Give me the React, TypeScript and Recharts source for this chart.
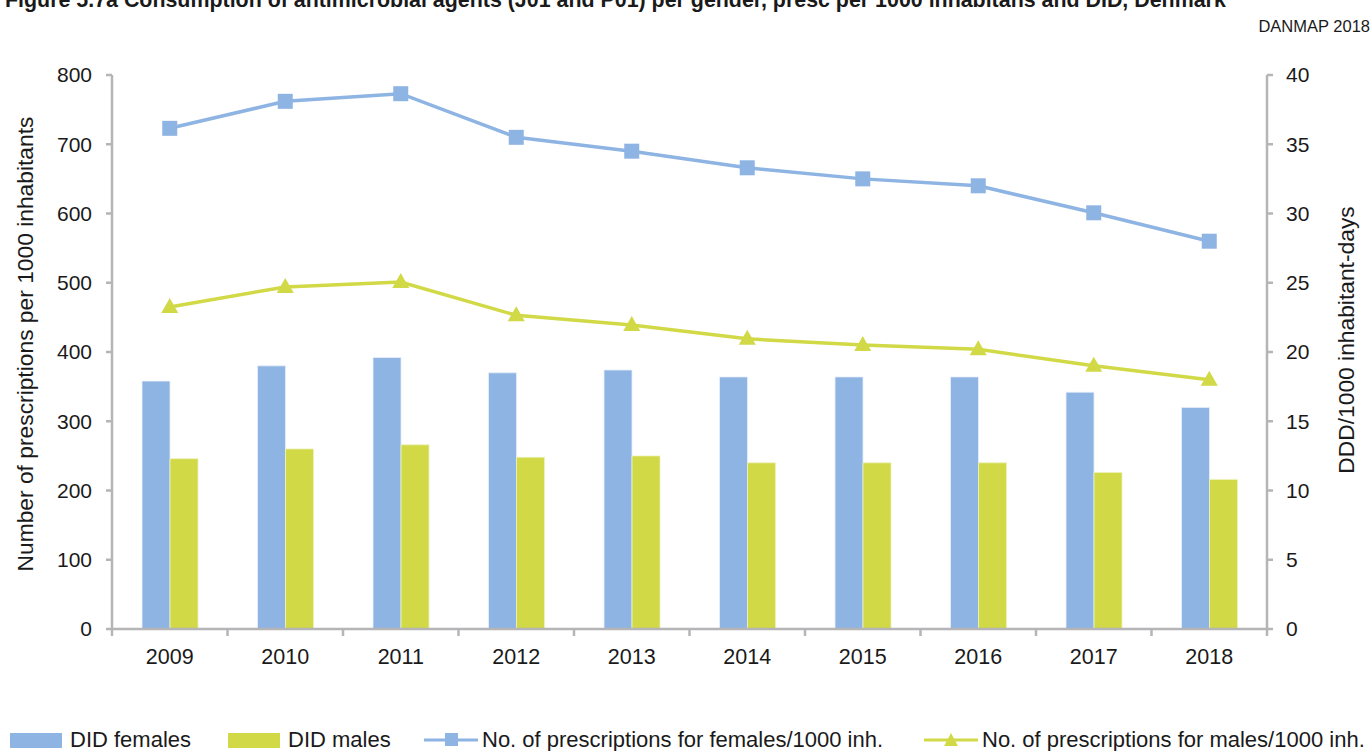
import React from "react";
import {
  Bar,
  ComposedChart,
  Label,
  Line,
  XAxis,
  YAxis,
} from "recharts";

const years = ["2009", "2010", "2011", "2012", "2013", "2014", "2015", "2016", "2017", "2018"];
const didFemales = [17.9, 19.0, 19.6, 18.5, 18.7, 18.2, 18.2, 18.2, 17.1, 16.0];
const didMales = [12.3, 13.0, 13.3, 12.4, 12.5, 12.0, 12.0, 12.0, 11.3, 10.8];
const prescFemales = [723, 762, 773, 710, 690, 666, 650, 640, 601, 560];
const prescMales = [465, 494, 501, 453, 439, 419, 410, 404, 380, 360];

const leftTicks = [0, 100, 200, 300, 400, 500, 600, 700, 800];
const rightTicks = [0, 5, 10, 15, 20, 25, 30, 35, 40];

const BLUE = "#8EB4E3";
const GREEN = "#D1D946";
const AXIS = "#b5b5b8";
const TEXT = "#1a1a1a";
const FONT = "'Liberation Sans', Arial, sans-serif";

const data = years.map((year, i) => ({
  year,
  didF: didFemales[i],
  didM: didMales[i],
  prF: prescFemales[i],
  prM: prescMales[i],
}));

const legendItems = [
  { label: "DID females", color: BLUE, kind: "bar", left: 10 },
  { label: "DID males", color: GREEN, kind: "bar", left: 228 },
  { label: "No. of prescriptions for females/1000 inh.", color: BLUE, kind: "square", left: 422 },
  { label: "No. of prescriptions for males/1000 inh.", color: GREEN, kind: "triangle", left: 922 },
];

function SquareDot(props: any) {
  const { cx, cy } = props;
  if (cx == null || cy == null) return null;
  return <rect x={cx - 7.5} y={cy - 7.5} width={15} height={15} fill={BLUE} />;
}

function TriangleDot(props: any) {
  const { cx, cy } = props;
  if (cx == null || cy == null) return null;
  return (
    <polygon
      points={`${cx},${cy - 9} ${cx + 8.5},${cy + 6} ${cx - 8.5},${cy + 6}`}
      fill={GREEN}
    />
  );
}

function YearTick(props: any) {
  const { x, y, payload, index } = props;
  const half = payload.offset ?? 57.75;
  const last = index === years.length - 1;
  return (
    <g>
      <line x1={x - half} x2={x - half} y1={y - 8} y2={y - 1} stroke={AXIS} strokeWidth={2.5} />
      {last && (
        <line x1={x + half} x2={x + half} y1={y - 8} y2={y - 1} stroke={AXIS} strokeWidth={2.5} />
      )}
      <text x={x} y={y + 27} textAnchor="middle" fill={TEXT} fontSize={21.5} fontFamily={FONT}>
        {payload.value}
      </text>
    </g>
  );
}

function LegendSwatch({ kind, color }: { kind: string; color: string }) {
  if (kind === "bar") {
    return (
      <svg width={54} height={18} style={{ display: "block" }}>
        <rect x={0} y={2} width={52} height={15} fill={color} />
      </svg>
    );
  }
  return (
    <svg width={58} height={18} style={{ display: "block" }}>
      <line x1={2} x2={56} y1={9} y2={9} stroke={color} strokeWidth={3} />
      {kind === "square" ? (
        <rect x={23} y={2} width={13} height={13} fill={color} />
      ) : (
        <polygon points="29,2 36,15 22,15" fill={color} />
      )}
    </svg>
  );
}

export default function App() {
  return (
    <div
      style={{
        position: "absolute",
        left: 0,
        top: 0,
        width: 1372,
        height: 751,
        overflow: "hidden",
        background: "#fff",
        fontFamily: FONT,
        color: TEXT,
      }}
    >
      <div
        style={{
          position: "absolute",
          left: 5,
          top: -12,
          fontSize: 21.4,
          fontWeight: "bold",
          whiteSpace: "nowrap",
        }}
      >
        Figure 5.7a Consumption of antimicrobial agents (J01 and P01) per gender, presc per 1000 inhabitans and DID, Denmark
      </div>
      <div style={{ position: "absolute", right: 2, top: 17, fontSize: 16.5 }}>DANMAP 2018</div>

      <ComposedChart
        width={1372}
        height={751}
        data={data}
        margin={{ top: 75, right: 0, bottom: 92, left: 0 }}
        barCategoryGap="26%"
        barGap={0}
      >
        <XAxis
          dataKey="year"
          height={30}
          axisLine={{ stroke: AXIS, strokeWidth: 2.5 }}
          tickLine={false}
          tick={<YearTick />}
          interval={0}
        />
        <YAxis
          yAxisId="left"
          width={112}
          domain={[0, 800]}
          ticks={leftTicks}
          axisLine={{ stroke: AXIS, strokeWidth: 2.5 }}
          tickLine={{ stroke: AXIS, strokeWidth: 2.5 }}
          tickSize={6}
          tickMargin={14}
          tick={{ fill: TEXT, fontSize: 21, fontFamily: FONT }}
        >
          <Label
            value="Number of prescriptions per 1000 inhabitants"
            angle={-90}
            position="center"
            dx={-31}
            dy={-8}
            style={{ fill: TEXT, fontSize: 22.8, fontFamily: FONT }}
          />
        </YAxis>
        <YAxis
          yAxisId="right"
          orientation="right"
          width={105}
          domain={[0, 40]}
          ticks={rightTicks}
          axisLine={{ stroke: AXIS, strokeWidth: 2.5 }}
          tickLine={{ stroke: AXIS, strokeWidth: 2.5 }}
          tickSize={6}
          tickMargin={13}
          tick={{ fill: TEXT, fontSize: 21, fontFamily: FONT, textAnchor: "start" }}
        >
          <Label
            value="DDD/1000 inhabitant-days"
            angle={-90}
            position="center"
            dx={26}
            dy={-12}
            style={{ fill: TEXT, fontSize: 22.8, fontFamily: FONT }}
          />
        </YAxis>
        <Bar
          yAxisId="right"
          dataKey="didF"
          fill={BLUE}
          stroke="#e8effa"
          strokeWidth={0.8}
          isAnimationActive={false}
        />
        <Bar
          yAxisId="right"
          dataKey="didM"
          fill={GREEN}
          stroke="#eef2c0"
          strokeWidth={0.8}
          isAnimationActive={false}
        />
        <Line
          yAxisId="left"
          dataKey="prF"
          stroke={BLUE}
          strokeWidth={3.5}
          dot={<SquareDot />}
          activeDot={false}
          isAnimationActive={false}
        />
        <Line
          yAxisId="left"
          dataKey="prM"
          stroke={GREEN}
          strokeWidth={3.5}
          dot={<TriangleDot />}
          activeDot={false}
          isAnimationActive={false}
        />
      </ComposedChart>

      {legendItems.map((item) => (
        <div
          key={item.label}
          style={{
            position: "absolute",
            left: item.left,
            top: 727,
            display: "flex",
            alignItems: "center",
            fontSize: 22,
            whiteSpace: "nowrap",
          }}
        >
          <LegendSwatch kind={item.kind} color={item.color} />
          <span style={{ marginLeft: item.kind === "bar" ? 6 : 2 }}>{item.label}</span>
        </div>
      ))}
    </div>
  );
}
